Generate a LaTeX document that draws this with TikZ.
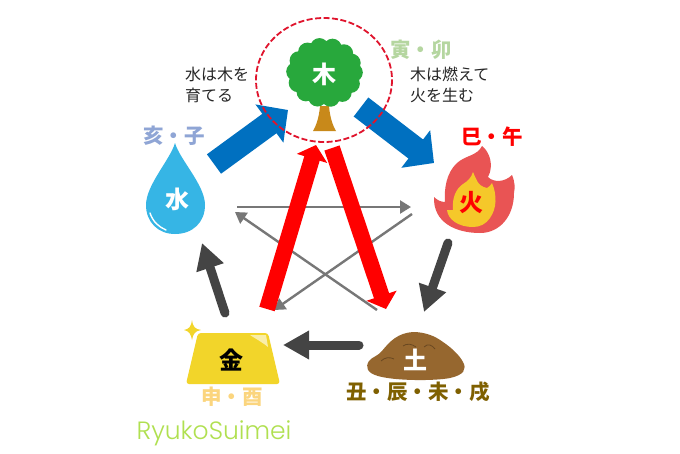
\documentclass[tikz,border=0pt]{standalone}
\usepackage{fontspec}
\setmainfont{Noto Sans CJK JP}
\newfontfamily\latinfont[UprightFont=* Light]{Poppins}
\usetikzlibrary{arrows.meta}
\definecolor{bluec}{HTML}{0070C0}
\definecolor{redc}{HTML}{FF0000}
\definecolor{darkc}{HTML}{444444}
\definecolor{grayc}{HTML}{777777}
\definecolor{treec}{HTML}{28A83C}
\definecolor{trunkc}{HTML}{C8891A}
\definecolor{waterc}{HTML}{36B5E5}
\definecolor{firec}{HTML}{E95454}
\definecolor{flamec}{HTML}{F5C82A}
\definecolor{goldc}{HTML}{F2D52A}
\definecolor{earthc}{HTML}{96672F}
\definecolor{ringc}{HTML}{E0142D}
\tikzset{
  blueflow/.style={draw=bluec,line width=24pt,-{Triangle[length=23pt,width=46pt]}},
  redflow/.style={draw=redc,line width=16pt,-{Triangle[length=14pt,width=31pt]}},
  darkflow/.style={draw=darkc,line width=9pt,line cap=round,-{Triangle[length=26pt,width=27pt]}},
  grayflow/.style={draw=grayc,line width=2.4pt,-{Triangle[length=11pt,width=13pt]}},
  gan/.style={font=\bfseries\fontsize{24}{24}\selectfont,inner sep=0pt},
  zhi/.style={font=\bfseries\fontsize{20.5}{20.5}\selectfont,inner sep=0pt},
  note/.style={font=\fontsize{16}{20.5}\selectfont,align=left,text=black!85,inner sep=0pt,anchor=north west},
}
\begin{document}
\begin{tikzpicture}[x=1pt,y=-1pt]
\useasboundingbox (0,0) rectangle (680,453);
\fill[white] (0,0) rectangle (680,453);
% connector ends
\coordinate (g1a) at (237,207); \coordinate (g1b) at (411,207);
\coordinate (g2a) at (412,214); \coordinate (g2b) at (274,310);
\coordinate (g3a) at (377,310); \coordinate (g3b) at (235,212);
\coordinate (r1a) at (267,309); \coordinate (r1b) at (316,145);
\coordinate (r2a) at (332,148); \coordinate (r2b) at (386,309);
\coordinate (b1a) at (214,164); \coordinate (b1b) at (288,110);
\coordinate (b2a) at (361,107); \coordinate (b2b) at (434,163);
\coordinate (d1a) at (448,243); \coordinate (d1b) at (424,312);
\coordinate (d2a) at (359,345); \coordinate (d2b) at (283,345);
\coordinate (d3a) at (225,313); \coordinate (d3b) at (202,243);
% tree
\fill[trunkc] (320,106) -- (329,106) .. controls (330,118) and (333,126) .. (336,131) -- (313,131) .. controls (316,126) and (319,118) .. (320,106) -- cycle;
\fill[treec] (324.5,72.5) ellipse (32 and 29);
\foreach \a in {0,26,...,340}{\fill[treec] (324.5,72.5) ++(\a:29 and 25.5) circle (9.3);}
% water
\fill[waterc] (175,143) .. controls (170,160) and (146,185) .. (146,205) .. controls (146,222) and (158,234) .. (175,234) .. controls (193,234) and (205,222) .. (205,205) .. controls (205,185) and (180,160) .. (175,143) -- cycle;
\draw[white,line width=1.4pt,line cap=round] (150,213) .. controls (153,222) and (159,227) .. (166,230);
% fire
\fill[firec] (482,146) .. controls (490,152) and (494,166) .. (488,177) .. controls (494,183) and (505,182) .. (512,175) .. controls (515,182) and (515,188) .. (514,193) .. controls (514,216) and (500,233) .. (480,233) .. controls (455,233) and (433,222) .. (434,197) .. controls (437,200) and (441,202) .. (445,202) .. controls (444,190) and (446,173) .. (457,163) .. controls (466,155) and (477,156) .. (482,146) -- cycle;
\fill[flamec] (473,172) .. controls (476,178) and (477,186) .. (487,188) .. controls (489,187) and (491,185) .. (492,183) .. controls (497,195) and (497,208) .. (490,218) .. controls (486,224) and (480,227) .. (473,227) .. controls (459,227) and (448,220) .. (447,210) .. controls (449,210) and (451,210) .. (453,210) .. controls (452,197) and (456,189) .. (463,184) .. controls (468,181) and (471,178) .. (473,172) -- cycle;
% gold
\fill[goldc,rounded corners=3pt] (198,333) -- (268,333) -- (280,384) -- (186,384) -- cycle;
\fill[white,opacity=.6] (250,335) .. controls (256,335) and (262,335) .. (266,335) -- (268,347) .. controls (262,342) and (256,339) .. (250,335) -- cycle;
\fill[goldc] (192,320) .. controls (193,327) and (195,329) .. (201,330) .. controls (195,331) and (193,334) .. (192,340) .. controls (191,334) and (189,331) .. (184,330) .. controls (189,329) and (191,327) .. (192,320) -- cycle;
% earth
\fill[earthc] (413,332) .. controls (425,332) and (435,336) .. (443,342) .. controls (452,348) and (460,356) .. (463,362) .. controls (467,369) and (464,375) .. (450,378) .. controls (435,381) and (395,381) .. (378,376) .. controls (367,373) and (365,367) .. (369,361) .. controls (372,357) and (378,356) .. (382,351) .. controls (390,341) and (398,333) .. (413,332) -- cycle;
\draw[earthc!70!black,line width=.8pt] (381,361) .. controls (385,357) and (390,357) .. (394,359);
\draw[earthc!70!black,line width=.8pt] (403,346) .. controls (407,343) and (412,344) .. (416,347);
\draw[earthc!70!black,line width=.8pt] (424,347) .. controls (428,343) and (432,345) .. (435,349);
% gray star
\draw[grayflow] (g1a) -- (g1b);
\draw[grayflow] (g2a) -- (g2b);
\draw[grayflow] (g3a) -- (g3b);
% red flows
\draw[redflow] (r1a) -- (r1b);
\draw[redflow] (r2a) -- (r2b);
% blue flows
\draw[blueflow] (b1a) -- (b1b);
\draw[blueflow] (b2a) -- (b2b);
% dark flows
\draw[darkflow] (d1a) -- (d1b);
\draw[darkflow] (d2a) -- (d2b);
\draw[darkflow] (d3a) -- (d3b);
% ring
\draw[ringc,line width=1.8pt,dash pattern=on 6pt off 2.5pt] (324,80) ellipse (68 and 62);
% element glyphs
\node[gan,text=white] (wood) at (324,74) {木};
\node[gan,text=white] (water) at (177,199) {水};
\node[gan,text=redc] (fire) at (471,203) {火};
\node[gan,text=black] (metal) at (231,360) {金};
\node[gan,text=white] (earth) at (415,360) {土};
% branches
\node[zhi,text={rgb,255:red,181;green,214;blue,160}] (zwood) at (421,50) {寅・卯};
\node[zhi,text=redc] (zfire) at (492,137) {巳・午};
\node[zhi,text={rgb,255:red,143;green,165;blue,213}] (zwater) at (174,136) {亥・子};
\node[zhi,text={rgb,255:red,251;green,213;blue,126}] (zmetal) at (232,397) {申・酉};
\node[zhi,text={rgb,255:red,127;green,96;blue,0}] (zearth) at (418,392) {丑・辰・未・戌};
% notes
\node[note] (n1) at (185,67) {水は木を\\育てる};
\node[note] (n2) at (410,67) {木は燃えて\\火を生む};
\node[inner sep=0pt,text={rgb,255:red,176;green,224;blue,80}] (brand) at (214,433) {\latinfont\fontsize{25}{25}\selectfont RyukoSuimei};
\end{tikzpicture}
\end{document}
